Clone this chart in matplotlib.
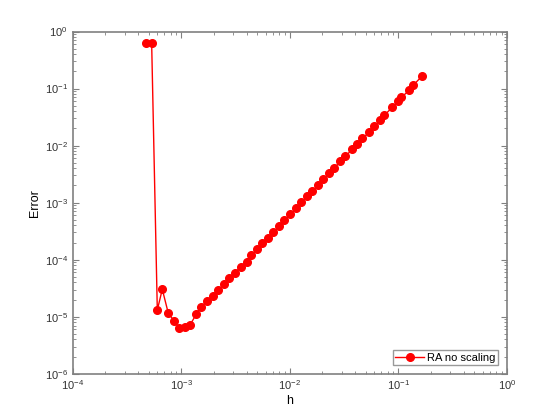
import numpy as np
import matplotlib
matplotlib.use("Agg")
import matplotlib.pyplot as plt

plt.rcParams['font.family'] = ['Liberation Sans', 'DejaVu Sans']
plt.rcParams['mathtext.default'] = 'regular'

# step size and error
h = [4.75e-4, 5.33e-4, 6.01e-4, 6.68e-4, 7.59e-4, 8.61e-4, 9.59e-4, 1.08e-3,
     1.20e-3, 1.37e-3, 1.52e-3, 1.74e-3, 1.95e-3, 2.19e-3, 2.46e-3, 2.77e-3,
     3.10e-3, 3.52e-3, 4.01e-3, 4.42e-3, 5.01e-3, 5.58e-3, 6.34e-3, 7.05e-3,
     8.00e-3, 8.89e-3, 1.01e-2, 1.15e-2, 1.28e-2, 1.45e-2, 1.61e-2, 1.83e-2,
     2.04e-2, 2.31e-2, 2.57e-2, 2.92e-2, 3.25e-2, 3.77e-2, 4.19e-2, 4.66e-2,
     5.41e-2, 6.01e-2, 6.83e-2, 7.43e-2, 8.81e-2, 0.100, 0.107, 0.126,
     0.137, 0.166]
err = [0.63, 0.63, 1.31e-5, 3.03e-5, 1.15e-5, 8.43e-6, 6.28e-6, 6.53e-6,
       7.08e-6, 1.10e-5, 1.50e-5, 1.87e-5, 2.34e-5, 2.91e-5, 3.71e-5, 4.72e-5,
       5.78e-5, 7.45e-5, 9.22e-5, 1.19e-4, 1.52e-4, 1.94e-4, 2.37e-4, 3.02e-4,
       3.85e-4, 4.91e-4, 6.25e-4, 7.96e-4, 1.01e-3, 1.29e-3, 1.58e-3, 2.01e-3,
       2.57e-3, 3.27e-3, 4.00e-3, 5.31e-3, 6.49e-3, 8.61e-3, 1.05e-2, 1.34e-2,
       1.71e-2, 2.18e-2, 2.77e-2, 3.40e-2, 4.69e-2, 5.98e-2, 7.03e-2, 9.31e-2,
       0.114, 0.166]

fig = plt.figure(figsize=(5.6, 4.2), dpi=100)
ax = fig.add_axes([0.13, 0.11, 0.775, 0.815])

ax.loglog(h, err, '-o', color='red', lw=1, ms=5.5, label='RA no scaling')

ax.set_xlim(1e-4, 1)
ax.set_ylim(1e-6, 1)
ax.set_xticks([1e-4, 1e-3, 1e-2, 1e-1, 1])
ax.set_yticks([1e-6, 1e-5, 1e-4, 1e-3, 1e-2, 1e-1, 1])
ax.set_xlabel('h', fontsize=9, labelpad=2)
ax.set_ylabel('Error', fontsize=9, labelpad=3)

for s in ax.spines.values():
    s.set_color('#808080')
    s.set_linewidth(1.2)
ax.tick_params(which='both', direction='in', top=True, right=True,
               colors='#808080', labelcolor='#333333', labelsize=8)
ax.tick_params(which='major', length=4)
ax.tick_params(which='minor', length=2)

leg = ax.legend(loc='lower right', fontsize=8, fancybox=False,
                borderpad=0.2, handlelength=2.6, handletextpad=0.3,
                borderaxespad=0.8)
leg.get_frame().set_edgecolor('#808080')
leg.get_frame().set_linewidth(1)

fig.savefig('out.png', dpi=100)
